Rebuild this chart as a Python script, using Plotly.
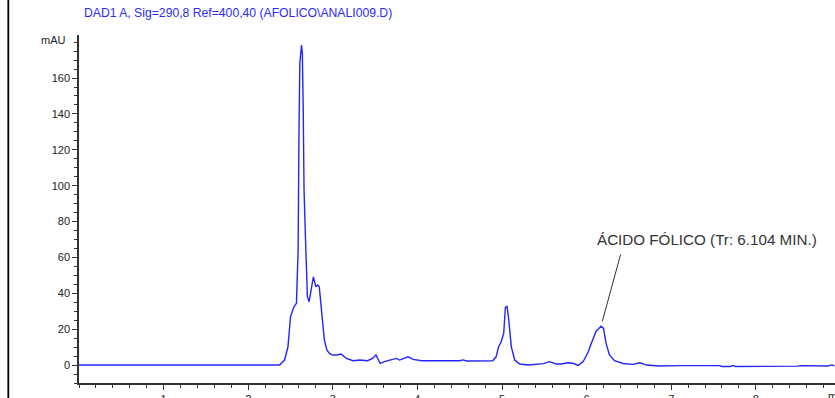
import plotly.graph_objects as go

# Retention time (min) and absorbance (mAU)
time_min = [0.00, 2.37, 2.43, 2.47, 2.50, 2.54, 2.57, 2.59, 2.60, 2.61, 2.63, 2.64,
            2.65, 2.66, 2.68, 2.70, 2.72, 2.75, 2.77, 2.80, 2.82, 2.84, 2.88, 2.90,
            2.93, 2.96, 3.00, 3.04, 3.10, 3.16, 3.24, 3.32, 3.41, 3.47, 3.51, 3.53,
            3.56, 3.61, 3.67, 3.75, 3.79, 3.83, 3.89, 3.95, 4.05, 4.50, 4.54, 4.58,
            4.89, 4.93, 4.96, 4.99, 5.02, 5.04, 5.06, 5.08, 5.11, 5.15, 5.21, 5.31,
            5.41, 5.49, 5.56, 5.64, 5.70, 5.78, 5.84, 5.90, 5.96, 6.02, 6.04, 6.11,
            6.17, 6.20, 6.23, 6.27, 6.33, 6.43, 6.55, 6.63, 6.71, 6.86, 7.10, 7.57,
            7.60, 7.70, 7.73, 7.76, 8.50, 8.53, 8.85, 8.90, 8.93]
signal_mau = [0.0, 0.0, 2.8, 10.2, 26.9, 32.5, 34.4, 64.0, 127.0, 168.0, 178.4, 173.7,
              144.0, 97.5, 66.0, 38.0, 35.3, 43.6, 49.2, 43.6, 44.6, 43.6, 25.0, 14.0,
              8.4, 6.5, 5.6, 5.6, 6.1, 3.7, 2.4, 2.8, 2.4, 3.7, 5.6, 3.7,
              0.9, 1.9, 2.8, 3.7, 2.8, 3.7, 4.6, 3.2, 2.4, 2.4, 2.9, 2.3,
              2.4, 4.6, 10.2, 13.0, 17.6, 32.0, 32.9, 25.0, 10.2, 2.8, 0.6, 0.0,
              0.6, 0.8, 1.9, 0.6, 0.6, 1.3, 1.0, -0.2, 1.9, 7.4, 10.2, 18.6,
              21.7, 20.4, 12.1, 5.6, 2.4, 0.9, 0.4, 1.3, 0.0, -0.5, -0.3, -0.3,
              -0.8, -0.8, -0.2, -0.8, -0.6, -0.3, -0.5, 0.1, -0.5]

x_tick_vals = [1, 2, 3, 4, 5, 6, 7, 8]
y_tick_vals = [0, 20, 40, 60, 80, 100, 120, 140, 160]

title_text = "DAD1 A, Sig=290,8 Ref=400,40 (AFOLICO\\ANALI009.D)"
peak_label = "ÁCIDO FÓLICO (Tr: 6.104 MIN.)"
peak_time, peak_height = 6.17, 21.7

FONT = "Liberation Sans, Arial, sans-serif"
W, H = 835, 398
L, R, T, B = 79, 0, 35, 15

fig = go.Figure()
fig.add_trace(go.Scatter(x=time_min, y=signal_mau, mode="lines",
                         line=dict(color="#2424ff", width=1.4),
                         hoverinfo="skip", showlegend=False))

axis_common = dict(showgrid=False, zeroline=False, showline=True, automargin=False,
                   linecolor="#333333", linewidth=1.5, ticks="outside",
                   tickcolor="#333333", tickwidth=1,
                   tickfont=dict(family=FONT, size=11, color="#222222"))

fig.update_xaxes(range=[0, 8.936], tickmode="array", tickvals=x_tick_vals,
                 ticklen=5,
                 minor=dict(tick0=0, dtick=0.2, ticklen=3, ticks="outside",
                            tickcolor="#333333", tickwidth=1),
                 **axis_common)
fig.update_yaxes(range=[-10, 184], tickmode="array", tickvals=y_tick_vals,
                 ticklen=5,
                 minor=dict(tick0=0, dtick=5, ticklen=3, ticks="outside",
                            tickcolor="#333333", tickwidth=1),
                 **axis_common)

pw, ph = W - L - R, H - T - B
# pixel position of the peak apex in the plot (for offsets of the label)
px_head = L + pw * peak_time / 8.936
py_head = T + ph * (184 - peak_height) / 194.0

annotations = [
    dict(text=title_text, xref="paper", yref="paper", x=(82 - L) / pw,
         y=(H - B - 13) / ph, xanchor="left", yanchor="middle", showarrow=False,
         font=dict(family=FONT, size=12.2, color="#2a2aff")),
    dict(text="mAU", xref="paper", yref="y", x=0, y=181, xanchor="right",
         yanchor="middle", xshift=-11, showarrow=False,
         font=dict(family=FONT, size=11, color="#222222")),
    dict(text="min", xref="paper", yref="paper", x=(826 - L) / pw,
         y=-(396 - (H - B)) / ph, xanchor="left", yanchor="middle",
         showarrow=False, font=dict(family=FONT, size=11, color="#222222")),
    # pointer line
    dict(text="", x=peak_time, y=peak_height, xref="x", yref="y",
         showarrow=True, arrowhead=0, arrowwidth=1, arrowcolor="#333333",
         ax=621 - px_head, ay=253 - py_head, standoff=5),
    # label text
    dict(text=peak_label, x=peak_time, y=peak_height, xref="x", yref="y",
         showarrow=False, xanchor="left", yanchor="middle",
         xshift=595 - px_head, yshift=py_head - 239,
         font=dict(family=FONT, size=15.2, color="#333333")),
]

fig.update_layout(width=W, height=H, margin=dict(l=L, r=R, t=T, b=B),
                  paper_bgcolor="white", plot_bgcolor="white",
                  annotations=annotations,
                  shapes=[dict(type="line", xref="paper", yref="paper",
                               x0=(8.3 - L) / pw, x1=(8.3 - L) / pw,
                               y0=-B / ph - 0.01, y1=(H - B) / ph + 0.01,
                               line=dict(color="black", width=1.8))])

fig.write_html("out.html", config={"displayModeBar": False},
               post_script="document.body.style.margin='0';"
                           "document.body.style.overflow='hidden';")
